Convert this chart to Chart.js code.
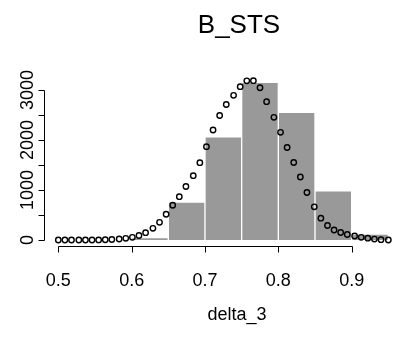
<!DOCTYPE html>
<html>
<head>
<meta charset="utf-8">
<title>B_STS</title>
<script src="https://cdn.jsdelivr.net/npm/chart.js@4.4.1/dist/chart.umd.min.js"></script>
<style>
  html, body { margin: 0; padding: 0; background: #fff; }
  canvas { display: block; }
</style>
</head>
<body>
<canvas id="hist" width="397" height="338"></canvas>
<script>
// histogram of delta_3, bins of width 0.05 (midpoints + counts)
const binMids = [0.625, 0.675, 0.725, 0.775, 0.825, 0.875, 0.925];
const binCounts = [50, 760, 2065, 3155, 2555, 985, 120];

// density curve, scaled to the counts
const curveX = [0.500, 0.509, 0.518, 0.528, 0.537, 0.546, 0.555, 0.564, 0.573, 0.583,
                0.592, 0.601, 0.610, 0.619, 0.629, 0.638, 0.647, 0.656, 0.665, 0.674,
                0.684, 0.693, 0.702, 0.711, 0.720, 0.729, 0.739, 0.748, 0.757, 0.766,
                0.775, 0.784, 0.794, 0.803, 0.812, 0.821, 0.830, 0.839, 0.849, 0.858,
                0.867, 0.876, 0.885, 0.894, 0.904, 0.913, 0.922, 0.931, 0.940, 0.950];
const curveY = [0, 0, 0, 0, 0, 0, 2, 5, 10, 20,
                33, 53, 90, 147, 233, 353, 515, 695, 867, 1070,
                1287, 1547, 1867, 2200, 2490, 2710, 2893, 3067, 3183, 3187,
                3045, 2767, 2453, 2153, 1850, 1550, 1260, 950, 663, 437,
                290, 200, 150, 110, 80, 53, 37, 18, 6, 0];

const xTicks = [0.5, 0.6, 0.7, 0.8, 0.9];
const yTicks = [0, 500, 1000, 1500, 2000, 2500, 3000];
const yLabels = [0, 1000, 2000, 3000];

const FONT = '"Liberation Sans", Arial, sans-serif';

// base-graphics style axes: lines only span the ticks, y labels rotated
const rAxes = {
    id: 'rAxes',
    afterDraw(chart) {
        const ctx = chart.ctx;
        const xs = chart.scales.x;
        const ys = chart.scales.y;
        const area = chart.chartArea;
        ctx.save();
        ctx.strokeStyle = '#000';
        ctx.fillStyle = '#000';
        ctx.lineWidth = 1;

        // x axis
        const ay = Math.round(area.bottom) + 0.5;
        ctx.beginPath();
        ctx.moveTo(Math.round(xs.getPixelForValue(xTicks[0])) + 0.5, ay);
        ctx.lineTo(Math.round(xs.getPixelForValue(xTicks[xTicks.length - 1])) + 0.5, ay);
        xTicks.forEach(v => {
            const px = Math.round(xs.getPixelForValue(v)) + 0.5;
            ctx.moveTo(px, ay);
            ctx.lineTo(px, ay + 6);
        });
        ctx.stroke();

        ctx.font = '18px ' + FONT;
        ctx.textAlign = 'center';
        ctx.textBaseline = 'alphabetic';
        xTicks.forEach(v => ctx.fillText(v.toFixed(1), xs.getPixelForValue(v), 286));

        // y axis
        const ax = Math.round(area.left) + 0.5;
        ctx.beginPath();
        ctx.moveTo(ax, Math.round(ys.getPixelForValue(yTicks[0])) + 0.5);
        ctx.lineTo(ax, Math.round(ys.getPixelForValue(yTicks[yTicks.length - 1])) + 0.5);
        yTicks.forEach(v => {
            const py = Math.round(ys.getPixelForValue(v)) + 0.5;
            ctx.moveTo(ax, py);
            ctx.lineTo(ax - 6, py);
        });
        ctx.stroke();

        yLabels.forEach(v => {
            ctx.save();
            ctx.translate(33, ys.getPixelForValue(v));
            ctx.rotate(-Math.PI / 2);
            ctx.fillText(String(v), 0, 0);
            ctx.restore();
        });

        // titles
        ctx.fillText('delta_3', 237, 320);
        ctx.font = '26px ' + FONT;
        ctx.fillText('B_STS', 239, 33);
        ctx.restore();
    }
};

const ctx = document.getElementById('hist').getContext('2d');
const chart = new Chart(ctx, {
    type: 'bar',
    data: {
        datasets: [{
            type: 'line',
            order: 0,
            data: curveX.map((x, i) => ({ x: x, y: curveY[i] })),
            showLine: false,
            clip: false,
            pointStyle: 'circle',
            pointRadius: 2.7,
            pointBorderWidth: 1.4,
            pointBorderColor: '#000',
            pointBackgroundColor: 'rgba(0,0,0,0)'
        }, {
            type: 'bar',
            order: 1,
            data: binMids.map((x, i) => ({ x: x, y: binCounts[i] })),
            backgroundColor: '#999999',
            borderColor: '#ffffff',
            borderWidth: 1,
            barPercentage: 1,
            categoryPercentage: 1
        }]
    },
    options: {
        responsive: false,
        animation: false,
        layout: {
            autoPadding: false,
            padding: { left: 44, right: 0, top: 72, bottom: 92 }
        },
        plugins: {
            legend: { display: false },
            tooltip: { enabled: false }
        },
        scales: {
            x: { type: 'linear', min: 0.4805, max: 0.9618, offset: false, display: false },
            y: { type: 'linear', min: -120, max: 3360, display: false }
        }
    },
    plugins: [rAxes]
});
</script>
</body>
</html>
